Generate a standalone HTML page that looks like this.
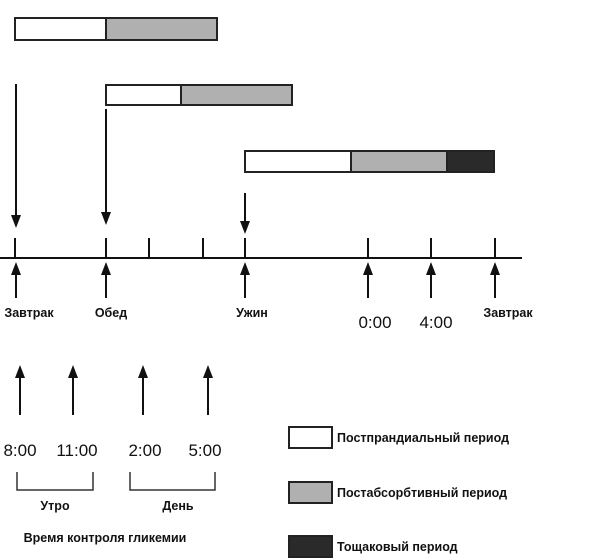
<!DOCTYPE html>
<html><head><meta charset="utf-8"><style>body{margin:0;background:#fff}svg{display:block}</style></head><body>
<svg width="600" height="558" xmlns="http://www.w3.org/2000/svg" font-family="Liberation Sans, DejaVu Sans, sans-serif">
<g stroke="#222" stroke-width="2">
<rect x="15" y="18" width="91" height="22" fill="#fff"/><rect x="106" y="18" width="111" height="22" fill="#b0b0b0"/>
<rect x="106" y="85" width="75" height="20" fill="#fff"/><rect x="181" y="85" width="111" height="20" fill="#b0b0b0"/>
<rect x="245" y="151" width="106" height="21" fill="#fff"/><rect x="351" y="151" width="96" height="21" fill="#b0b0b0"/><rect x="447" y="151" width="47" height="21" fill="#2a2a2a"/>
</g>
<g stroke="#111" stroke-width="2">
<line x1="16" y1="84" x2="16" y2="218"/><path d="M11,215 L21,215 L16,228 Z" fill="#111" stroke="none"/>
<line x1="106" y1="109" x2="106" y2="215"/><path d="M101,212 L111,212 L106,225 Z" fill="#111" stroke="none"/>
<line x1="245" y1="193" x2="245" y2="224"/><path d="M240,221 L250,221 L245,234 Z" fill="#111" stroke="none"/>
<line x1="0" y1="258" x2="522" y2="258"/>
<g><line x1="15" y1="238" x2="15" y2="258"/><line x1="106" y1="238" x2="106" y2="258"/><line x1="149" y1="238" x2="149" y2="258"/><line x1="203" y1="238" x2="203" y2="258"/><line x1="245" y1="238" x2="245" y2="258"/><line x1="368" y1="238" x2="368" y2="258"/><line x1="431" y1="238" x2="431" y2="258"/><line x1="495" y1="238" x2="495" y2="258"/></g>
</g>
<g stroke="#111" stroke-width="2" fill="#111">
<line x1="16" y1="272" x2="16" y2="298"/><line x1="106" y1="272" x2="106" y2="298"/><line x1="245" y1="272" x2="245" y2="298"/><line x1="368" y1="272" x2="368" y2="298"/><line x1="431" y1="272" x2="431" y2="298"/><line x1="495" y1="272" x2="495" y2="298"/>
<line x1="20" y1="375" x2="20" y2="415"/><line x1="73" y1="375" x2="73" y2="415"/><line x1="143" y1="375" x2="143" y2="415"/><line x1="208" y1="375" x2="208" y2="415"/>
</g>
<g fill="#111">
<path d="M11,275 L21,275 L16,262 Z"/><path d="M101,275 L111,275 L106,262 Z"/><path d="M240,275 L250,275 L245,262 Z"/><path d="M363,275 L373,275 L368,262 Z"/><path d="M426,275 L436,275 L431,262 Z"/><path d="M490,275 L500,275 L495,262 Z"/>
<path d="M15,378 L25,378 L20,365 Z"/><path d="M68,378 L78,378 L73,365 Z"/><path d="M138,378 L148,378 L143,365 Z"/><path d="M203,378 L213,378 L208,365 Z"/>
</g>
<g font-size="12.5" font-weight="bold" fill="#111" text-anchor="middle">
<text x="29" y="317">Завтрак</text><text x="111" y="317">Обед</text><text x="252" y="317">Ужин</text><text x="508" y="317">Завтрак</text>
<text x="55" y="510">Утро</text><text x="178" y="510">День</text><text x="105" y="542">Время контроля гликемии</text>
</g>
<g font-size="17" fill="#111" text-anchor="middle">
<text x="375" y="328">0:00</text><text x="436" y="328">4:00</text>
<text x="20" y="456">8:00</text><text x="77" y="456">11:00</text><text x="145" y="456">2:00</text><text x="205" y="456">5:00</text>
</g>
<g stroke="#333" stroke-width="1.5" fill="none">
<path d="M17,472 V490 H93 V472"/><path d="M130,472 V490 H215 V472"/>
</g>
<g stroke="#222" stroke-width="2">
<rect x="289" y="427" width="43" height="21" fill="#fff"/>
<rect x="289" y="482" width="43" height="21" fill="#b0b0b0"/>
<rect x="289" y="536" width="43" height="21" fill="#2a2a2a"/>
</g>
<g font-size="12.5" font-weight="bold" fill="#111">
<text x="337" y="442">Постпрандиальный период</text>
<text x="337" y="497">Постабсорбтивный период</text>
<text x="337" y="551">Тощаковый период</text>
</g>
</svg>
</body></html>
